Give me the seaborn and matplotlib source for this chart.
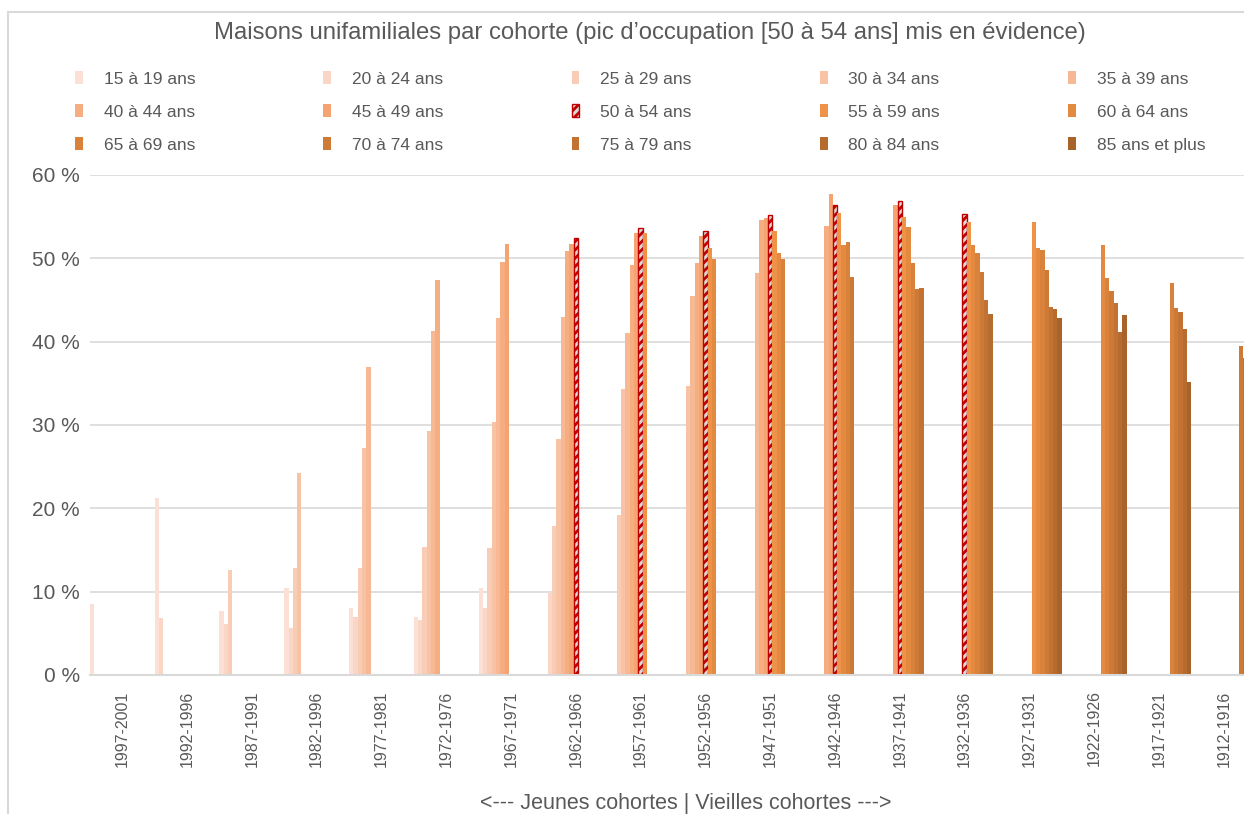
import numpy as np
import pandas as pd
import matplotlib
matplotlib.use("Agg")
import matplotlib.pyplot as plt
import seaborn as sns
from matplotlib.patches import Patch
from matplotlib.lines import Line2D
from matplotlib.colors import to_rgb

# ---- Données -------------------------------------------------------------
cohortes = ["1997-2001", "1992-1996", "1987-1991", "1982-1996", "1977-1981",
            "1972-1976", "1967-1971", "1962-1966", "1957-1961", "1952-1956",
            "1947-1951", "1942-1946", "1937-1941", "1932-1936", "1927-1931",
            "1922-1926", "1917-1921", "1912-1916"]

groupes_age = ["15 à 19 ans", "20 à 24 ans", "25 à 29 ans", "30 à 34 ans",
               "35 à 39 ans", "40 à 44 ans", "45 à 49 ans", "50 à 54 ans",
               "55 à 59 ans", "60 à 64 ans", "65 à 69 ans", "70 à 74 ans",
               "75 à 79 ans", "80 à 84 ans", "85 ans et plus"]

# indice du premier groupe d'âge observé pour chaque cohorte
premier_groupe = [0, 0, 0, 0, 0, 0, 0, 1, 2, 3, 4, 5, 6, 7, 8, 9, 10, 11]

# taux d'occupation d'une maison unifamiliale (%), groupes d'âge successifs
taux = [
    [8.5],
    [21.2, 6.8],
    [7.7, 6.1, 12.6],
    [10.5, 5.7, 12.8, 24.3],
    [8.1, 7.0, 12.9, 27.2, 37.0],
    [7.0, 6.6, 15.4, 29.3, 41.3, 47.4],
    [10.5, 8.0, 15.2, 30.4, 42.8, 49.6, 51.7],
    [9.8, 17.9, 28.3, 43.0, 50.9, 51.7, 52.4],
    [19.2, 34.3, 41.0, 49.2, 53.0, 53.6, 53.1],
    [34.7, 45.5, 49.5, 52.7, 53.3, 51.2, 49.9],
    [48.2, 54.6, 54.8, 55.2, 53.3, 50.7, 49.9],
    [53.9, 57.7, 56.4, 55.4, 51.6, 52.0, 47.8],
    [56.4, 56.9, 55.0, 53.8, 49.5, 46.3, 46.4],
    [55.3, 54.4, 51.6, 50.7, 48.4, 45.0, 43.3],
    [54.4, 51.2, 51.0, 48.6, 44.2, 43.9, 42.9],
    [51.6, 47.6, 46.1, 44.6, 41.2, 43.2],
    [47.0, 44.1, 43.6, 41.5, 35.2],
    [39.5, 38.0],
]

couleurs = ["#FBE0D6", "#FAD6C6", "#F9CCB6", "#F8C2A5", "#F7B894",
            "#F6AD82", "#F5A370", "#D9D9D9", "#EF9147", "#E48A40",
            "#D8823C", "#CD7A37", "#C27333", "#B66B2F", "#A8632B"]

PIC = "50 à 54 ans"
ROUGE = "#C00000"
GRIS_TEXTE = "#595959"
GRIS_LIGNE = "#D9D9D9"

rows = []
for cohorte, debut, valeurs in zip(cohortes, premier_groupe, taux):
    for k, v in enumerate(valeurs):
        rows.append({"cohorte": cohorte, "age": groupes_age[debut + k], "taux": v})
df = pd.DataFrame(rows)

# ---- Figure --------------------------------------------------------------
sns.set_theme(style="white")
plt.rcParams["font.family"] = ["Liberation Sans", "DejaVu Sans"]
plt.rcParams["hatch.linewidth"] = 2.0

W, H = 1244, 814
fig = plt.figure(figsize=(W / 100, H / 100), dpi=100)
fig.patch.set_facecolor("white")

# zone de tracé : elle déborde à droite du cadre de l'image
x0, pas = 89.8, 64.8
x1 = x0 + len(cohortes) * pas
y_top, y_bot = 175, 675
ax = fig.add_axes([x0 / W, 1 - y_bot / H, (x1 - x0) / W, (y_bot - y_top) / H])

sns.barplot(data=df, x="cohorte", y="taux", hue="age", order=cohortes,
            hue_order=groupes_age, palette=couleurs, width=1.0, saturation=1,
            errorbar=None, legend=False, ax=ax, linewidth=0)

# mise en évidence du groupe 50 à 54 ans
pic_rgb = to_rgb(couleurs[groupes_age.index(PIC)])
for p in ax.patches:
    if np.allclose(p.get_facecolor()[:3], pic_rgb):
        p.set_hatch("////")
        p.set_edgecolor(ROUGE)
        p.set_linewidth(1.0)

ax.set_xlim(-0.5, len(cohortes) - 0.5)
ax.set_ylim(0, 60)
ax.set_yticks(range(0, 61, 10))
ax.set_yticklabels([f"{v} %" for v in range(0, 61, 10)])
ax.set_xlabel("")
ax.set_ylabel("")

ax.yaxis.grid(True, color=GRIS_LIGNE, linewidth=1.2)
ax.xaxis.grid(False)
ax.set_axisbelow(True)
for side in ["top", "right", "left"]:
    ax.spines[side].set_visible(False)
ax.spines["bottom"].set_color(GRIS_LIGNE)
ax.spines["bottom"].set_linewidth(1.5)

ax.tick_params(axis="y", length=0, pad=7, labelsize=15, labelcolor=GRIS_TEXTE)
ax.tick_params(axis="x", which="major", length=0, pad=11, labelsize=11.5,
               labelcolor=GRIS_TEXTE, labelrotation=90)
ax.set_xticks(np.arange(-0.5, len(cohortes), 1), minor=True)
ax.tick_params(axis="x", which="minor", length=13, width=1.2,
               direction="inout", color=GRIS_LIGNE)

# titre et titre d'axe
fig.text(650 / W, 1 - 33 / H,
         "Maisons unifamiliales par cohorte (pic d’occupation [50 à 54 ans] mis en évidence)",
         ha="center", va="center", fontsize=17.2, color=GRIS_TEXTE)
fig.text(686 / W, 1 - 803 / H, "<--- Jeunes cohortes | Vieilles cohortes --->",
         ha="center", va="center", fontsize=15.5, color=GRIS_TEXTE)

# légende (5 colonnes, lecture par ligne)
handles = []
for age, c in zip(groupes_age, couleurs):
    if age == PIC:
        handles.append(Patch(facecolor=c, edgecolor=ROUGE, hatch="////", linewidth=1.0))
    else:
        handles.append(Patch(facecolor=c, edgecolor="none"))
ncol, nrow = 5, 3
ordre = [r * ncol + c for c in range(ncol) for r in range(nrow)]
fig.legend([handles[i] for i in ordre], [groupes_age[i] for i in ordre],
           loc="upper left", bbox_to_anchor=(75 / W, 1 - 71 / H), ncol=ncol,
           frameon=False, fontsize=12.5, labelcolor=GRIS_TEXTE,
           handlelength=0.45, handleheight=0.8, handletextpad=1.2,
           columnspacing=7.38, labelspacing=1.0, borderpad=0, borderaxespad=0)

# cadre du graphique
fig.add_artist(Line2D([8 / W, 1.0], [1 - 12 / H, 1 - 12 / H],
                      transform=fig.transFigure, color=GRIS_LIGNE, lw=1.5))
fig.add_artist(Line2D([8 / W, 8 / W], [0, 1 - 12 / H],
                      transform=fig.transFigure, color=GRIS_LIGNE, lw=1.5))

fig.savefig("out.png", dpi=100, facecolor="white")
